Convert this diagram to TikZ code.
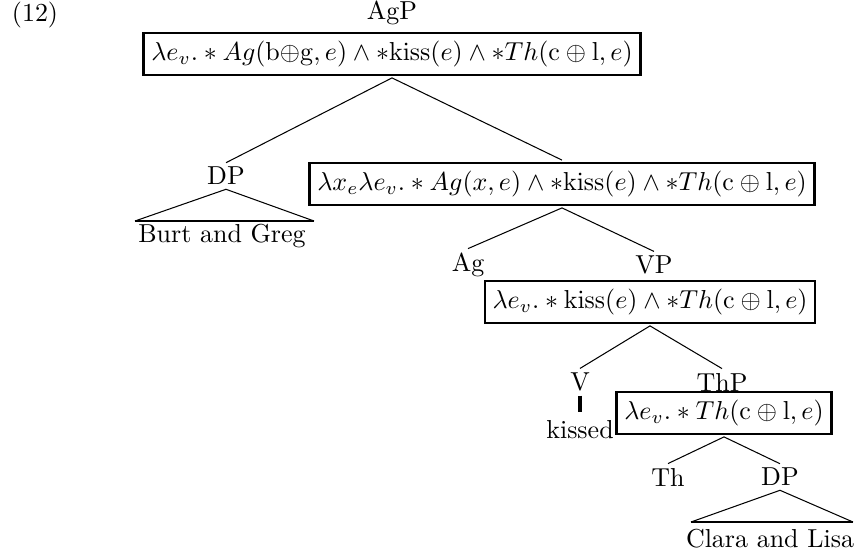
\documentclass[tikz,border=0pt]{standalone}
\usetikzlibrary{positioning}

\tikzset{
  sem/.style={draw, line width=0.8pt, inner sep=3pt, outer sep=1.2pt},
  cat/.style={inner sep=1.5pt},
  branch/.style={line width=0.4pt},
  roofbase/.style={line width=0.9pt}
}

\begin{document}
\begin{tikzpicture}[x=0.385pt,y=0.385pt,yscale=-1,xscale=1]
\useasboundingbox (0,0) rectangle (860,554);

% Text Node
\node (num) at (35,15) {(12)};
% Text Node
\node[cat] (agp) at (392,13) {AgP};
% Box
\node[sem] (bagp) at (392,54) {$\lambda e_v.\ast Ag(\mathrm{b}{\oplus}\mathrm{g},e)\wedge\ast\mathrm{kiss}(e)\wedge\ast Th(\mathrm{c}\oplus\mathrm{l},e)$};

% Text Node
\node[cat] (dpa) at (226,176) {DP};
% Box
\node[sem] (bagbar) at (562,184) {$\lambda x_e\lambda e_v.\ast Ag(x,e)\wedge\ast\mathrm{kiss}(e)\wedge\ast Th(\mathrm{c}\oplus\mathrm{l},e)$};
% Straight Lines
\draw[branch] (bagp.south) -- (dpa.north);
\draw[branch] (bagp.south) -- (bagbar.north);

% Roof
\coordinate (roofal) at (135,221);
\coordinate (roofar) at (314,221);
\draw[branch] (roofal) -- (dpa.south) -- (roofar);
\draw[roofbase] (roofal) -- (roofar);
% Text Node
\node (burt) at (222,236) {Burt and Greg};

% Text Node
\node[cat] (ag) at (468,265) {Ag};
% Text Node
\node[cat] (vp) at (654,265) {VP};
% Box
\node[sem] (bvp) at (650,302) {$\lambda e_v.\ast\mathrm{kiss}(e)\wedge\ast Th(\mathrm{c}\oplus\mathrm{l},e)$};
% Straight Lines
\draw[branch] (bagbar.south) -- (ag.north);
\draw[branch] (bagbar.south) -- (vp.north);

% Text Node
\node[cat] (v) at (580,382) {V};
% Text Node
\node[cat] (thp) at (722,382) {ThP};
% Box
\node[sem] (bthp) at (724,413) {$\lambda e_v.\ast Th(\mathrm{c}\oplus\mathrm{l},e)$};
% Straight Lines
\draw[branch] (bvp.south) -- (v.north);
\draw[branch] (bvp.south) -- (thp.north);

% Text Node
\node (kissed) at (580,430) {kissed};
\draw[line width=1.2pt] (v.south) -- (kissed.north);

% Text Node
\node[cat] (th) at (668,477) {Th};
% Text Node
\node[cat] (dpb) at (780,477) {DP};
% Straight Lines
\draw[branch] (bthp.south) -- (th.north);
\draw[branch] (bthp.south) -- (dpb.north);

% Roof
\coordinate (roofbl) at (691,522);
\coordinate (roofbr) at (853,522);
\draw[branch] (roofbl) -- (dpb.south) -- (roofbr);
\draw[roofbase] (roofbl) -- (roofbr);
% Text Node
\node (clara) at (770,539) {Clara and Lisa};

\end{tikzpicture}
\end{document}
